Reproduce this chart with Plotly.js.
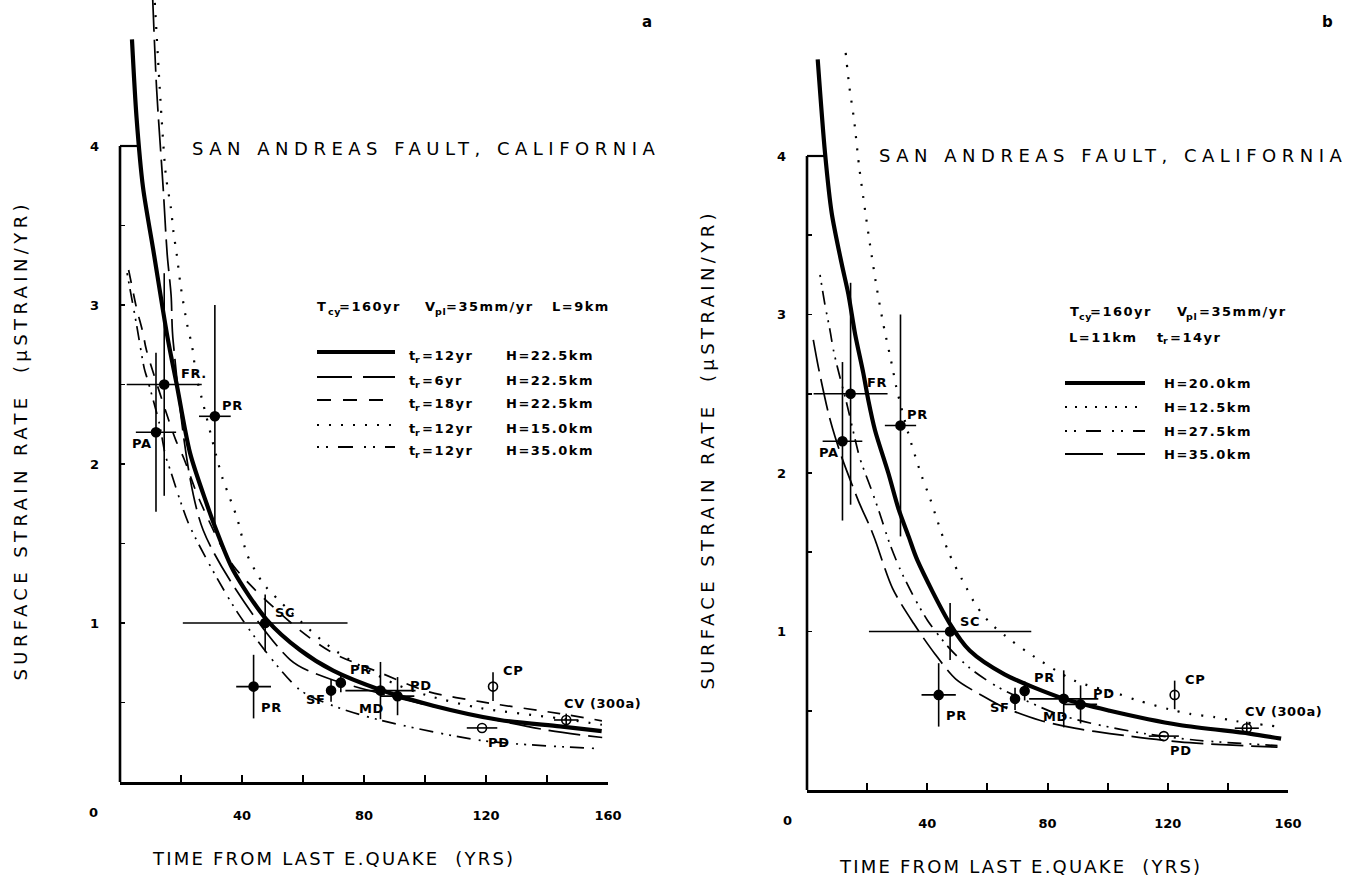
<!DOCTYPE html>
<html>
<head>
<meta charset="utf-8">
<script src="https://cdn.plot.ly/plotly-3.0.1.min.js"></script>
<style>
  html, body { margin: 0; padding: 0; background: #fff; }
  #chart { width: 1359px; height: 877px; }
</style>
</head>
<body>
<div id="chart"></div>
<script>
// ---------- axis ticks ----------
const yearTicks = [40, 80, 120, 160];
const yearMinorTicks = [20, 60, 100, 140];
const rateTicks = [1, 2, 3, 4];
const rateMinorTicks = [0.5, 1.5, 2.5, 3.5];

// ---------- observed surface strain rates (both panels) ----------
const siteYears   = [11.8, 14.5, 31.1, 47.6, 43.8, 69.2, 72.4, 85.4, 91, 122.3, 118.7, 146.3];
const siteRates   = [2.2, 2.5, 2.3, 1.0, 0.6, 0.575, 0.625, 0.575, 0.54, 0.6, 0.34, 0.39];
const siteYearErr = [6.6, 12.3, 5.2, 27, 5.7, 0, 0, 11.5, 5.5, 0, 5, 4];
const siteRateErr = [0.5, 0.7, 0.7, 0.18, 0.2, 0.07, 0.06, 0.18, 0.12, 0.09, 0, 0.04];
const siteOpen    = [false, false, false, false, false, false, false, false, false, true, true, true];
const siteLabelsA = ['PA', 'FR.', 'PR', 'SC', 'PR', 'SF', 'PR', 'MD', 'PD', 'CP', 'PD', 'CV (300a)'];
const siteLabelsB = ['PA', 'FR', 'PR', 'SC', 'PR', 'SF', 'PR', 'MD', 'PD', 'CP', 'PD', 'CV (300a)'];

// ---------- panel a model curves (Tcy=160yr, Vpl=35mm/yr, L=9km) ----------
const aTr12H225Years = [3.92, 5.42, 7.54, 10.88, 15.55, 18.6, 22.95, 28.42, 31.65, 37.15, 48.12, 59.04, 69.89, 85.24, 102.7, 124.56, 144.24, 157.93];
const aTr12H225Rates = [4.67, 4.18, 3.74, 3.35, 2.80, 2.50, 2.07, 1.75, 1.58, 1.33, 1.02, 0.83, 0.70, 0.58, 0.48, 0.39, 0.35, 0.32];

const aTr6H225Years = [10.73, 12.0, 14.14, 15.47, 16.76, 17.44, 27.25, 55.72, 67.07, 96.11, 139.83, 158.1];
const aTr6H225Rates = [4.92, 4.36, 3.74, 3.32, 3.06, 2.77, 1.585, 0.77, 0.66, 0.505, 0.327, 0.28];

const aTr18H225Years = [2.83, 3.79, 5.43, 7.47, 8.62, 15.55, 18.29, 21.04, 25.93, 37.16, 58.0, 69.93, 86.28, 100.73, 118.2, 144.18, 158.0];
const aTr18H225Rates = [3.22, 3.13, 2.98, 2.83, 2.72, 2.30, 2.15, 2.03, 1.78, 1.36, 0.97, 0.81, 0.68, 0.57, 0.505, 0.43, 0.385];

const aTr12H15Years = [11.42, 13.62, 15.07, 16.69, 17.53, 18.66, 19.89, 21.99, 23.63, 25.05, 26.99, 31.45, 33.78, 35.74, 38.38, 41.69, 45.53, 47.71, 68.85, 89.76, 100.72, 118.19, 144.16, 158.0];
const aTr12H15Rates = [4.9, 4.18, 3.81, 3.61, 3.46, 3.31, 3.12, 2.88, 2.74, 2.55, 2.40, 2.06, 1.90, 1.80, 1.66, 1.43, 1.29, 1.23, 0.85, 0.62, 0.545, 0.465, 0.40, 0.36];

const aTr12H35Years = [2.32, 5.39, 7.97, 9.04, 12.83, 14.94, 16.51, 19.73, 23.06, 39.43, 58.94, 69.8, 85.16, 119.01, 157.39];
const aTr12H35Rates = [3.2, 2.88, 2.60, 2.53, 2.26, 2.05, 1.96, 1.77, 1.6, 1.04, 0.58, 0.48, 0.39, 0.26, 0.21];

// ---------- panel b model curves (Tcy=160yr, Vpl=35mm/yr, L=11km, tr=14yr) ----------
const bH20Years = [3.56, 5.99, 8.22, 11.54, 13.74, 15.97, 18.73, 20.39, 22.62, 27.05, 30.5, 33.8, 36.7, 47.5, 54.1, 65.7, 85.5, 100.7, 123.9, 147.2, 157.7];
const bH20Rates = [4.61, 4.02, 3.64, 3.32, 3.13, 2.88, 2.63, 2.46, 2.27, 2.0, 1.77, 1.60, 1.45, 1.05, 0.88, 0.73, 0.575, 0.50, 0.41, 0.356, 0.324];

const bH125Years = [12.87, 14.07, 15.64, 17.3, 19.3, 20.96, 23.19, 25.38, 28.38, 29.84, 33.7, 38.16, 40.92, 43, 47.1, 52.9, 56.4, 61.1, 67.5, 73.3, 89, 103, 110, 120.4, 127.4, 135.6, 142.5, 156.5];
const bH125Rates = [4.65, 4.44, 4.23, 3.94, 3.66, 3.44, 3.17, 2.94, 2.67, 2.53, 2.25, 1.98, 1.84, 1.72, 1.50, 1.28, 1.16, 1.05, 0.95, 0.87, 0.69, 0.61, 0.565, 0.51, 0.48, 0.46, 0.435, 0.40];

const bH275Years = [4.33, 5.99, 7.65, 8.75, 10.08, 13.2, 16.53, 17.63, 21.52, 24.28, 27.4, 30.8, 35.5, 40.1, 47.1, 54.1, 63.4, 72.7, 83.2, 94.8, 112.3, 129.7, 156.5];
const bH275Rates = [3.25, 3.06, 2.90, 2.78, 2.67, 2.44, 2.17, 2.09, 1.89, 1.74, 1.56, 1.40, 1.22, 1.07, 0.90, 0.77, 0.65, 0.565, 0.48, 0.42, 0.356, 0.314, 0.28];

const bH35Years = [2.1, 3.76, 7.09, 9.31, 11.54, 14.3, 17.63, 20.96, 22.62, 28.5, 35.5, 42.5, 49.5, 58.8, 65.7, 77.4, 89, 100.7, 123.9, 156.5];
const bH35Rates = [2.84, 2.67, 2.38, 2.23, 2.10, 1.96, 1.80, 1.66, 1.58, 1.27, 1.05, 0.86, 0.70, 0.59, 0.52, 0.44, 0.39, 0.356, 0.303, 0.27];

// ---------- page geometry ----------
const W = 1359, H = 877;
const px = v => v / W;           // pixel column -> paper x
const py = v => 1 - v / H;       // pixel row -> paper y

const panelA = { left: 120, right: 608, bottom: 782, unit: 159, zeroLabel: 87 };
const panelB = { left: 807, right: 1288, bottom: 790, unit: 158.5, zeroLabel: 781 };

const FONT = 'DejaVu Sans';
const INK = '#000';

// line styles
const THICK = { color: INK, width: 4.2, shape: 'spline', smoothing: 0.8 };
const thin = dash => ({ color: INK, width: 1.7, dash: dash, shape: 'spline', smoothing: 0.8 });
const DASH_LONG = '32px,8px';
const DASH_MED = '13px,11px';
const DOTS = '2px,10px';
const DASH_DOT_DOT = '2px,6px,2px,6px,14px,8px';

function curve(xs, ys, line, xa, ya) {
  return { x: xs, y: ys, type: 'scatter', mode: 'lines', line: line,
           xaxis: xa, yaxis: ya, hoverinfo: 'skip', showlegend: false };
}

function sites(xa, ya) {
  return {
    x: siteYears, y: siteRates, type: 'scatter', mode: 'markers',
    xaxis: xa, yaxis: ya, showlegend: false, hoverinfo: 'skip',
    marker: {
      size: 9, color: INK,
      symbol: siteOpen.map(o => o ? 'circle-open' : 'circle'),
      line: { color: INK, width: 1.6 }
    },
    error_x: { type: 'data', array: siteYearErr, symmetric: true, width: 0, thickness: 1.6, color: INK },
    error_y: { type: 'data', array: siteRateErr, symmetric: true, width: 0, thickness: 1.6, color: INK }
  };
}

const traces = [
  curve(aTr12H35Years, aTr12H35Rates, thin(DASH_DOT_DOT), 'x', 'y'),
  curve(aTr6H225Years, aTr6H225Rates, thin(DASH_LONG), 'x', 'y'),
  curve(aTr18H225Years, aTr18H225Rates, thin(DASH_MED), 'x', 'y'),
  curve(aTr12H15Years, aTr12H15Rates, Object.assign(thin(DOTS), { width: 2.2 }), 'x', 'y'),
  curve(aTr12H225Years, aTr12H225Rates, THICK, 'x', 'y'),
  sites('x', 'y'),

  curve(bH35Years, bH35Rates, thin(DASH_LONG), 'x2', 'y2'),
  curve(bH275Years, bH275Rates, thin(DASH_DOT_DOT), 'x2', 'y2'),
  curve(bH125Years, bH125Rates, Object.assign(thin(DOTS), { width: 2.2 }), 'x2', 'y2'),
  curve(bH20Years, bH20Rates, THICK, 'x2', 'y2'),
  sites('x2', 'y2')
];

// ---------- text ----------
const annotations = [];
const spacing = [];
function addText(opt, ls) {
  annotations.push(Object.assign({
    showarrow: false, align: 'left', xanchor: 'left', yanchor: 'middle'
  }, opt));
  spacing.push(ls || 0);
}
const bold = (size) => ({ family: FONT, size: size, color: INK, weight: 'bold' });
const plain = (size) => ({ family: FONT, size: size, color: INK });

// anchors of the site names (years, rate)
const labelYears = [3.4, 19.2, 32.7, 50.3, 45.6, 60.2, 74.8, 77.8, 94.5, 125, 120.1, 145];
const labelRates = [2.13, 2.57, 2.37, 1.065, 0.467, 0.52, 0.709, 0.461, 0.606, 0.70, 0.247, 0.495];

function panelText(p, xa, ya, labels, letter, titleRow) {
  labels.forEach((t, i) => addText({ text: t, x: labelYears[i], y: labelRates[i],
    xref: xa, yref: ya, font: bold(13) }, 0.6));
  addText({ text: 'SAN ANDREAS FAULT, CALIFORNIA', x: px(p.left + 70), y: py(titleRow),
    xref: 'paper', yref: 'paper', font: plain(18) }, 5.5);
  addText({ text: 'TIME FROM LAST E.QUAKE  (YRS)', x: px(p.left + 30), y: py(p.bottom + 76),
    xref: 'paper', yref: 'paper', font: plain(18) }, 2.2);
  addText({ text: 'SURFACE STRAIN RATE  (\u03BCSTRAIN/YR)', x: px(p.left - 100), y: py(p.bottom - 99),
    xref: 'paper', yref: 'paper', textangle: -90, xanchor: 'center', yanchor: 'bottom',
    font: plain(18) }, 4.4);
  addText({ text: '0', x: px(p.zeroLabel), y: py(p.bottom + 30),
    xref: 'paper', yref: 'paper', font: bold(13) }, 0);
  addText({ text: letter, x: px(p.right + 32), y: py(22),
    xref: 'paper', yref: 'paper', font: bold(15) }, 0);
}
panelText(panelA, 'x', 'y', siteLabelsA, 'a', 148);
panelText(panelB, 'x2', 'y2', siteLabelsB, 'b', 155);

// ---------- legends ----------
const shapes = [];
function legendLine(x0, x1, yRow, line) {
  shapes.push({ type: 'line', xref: 'paper', yref: 'paper',
    x0: px(x0), x1: px(x1), y0: py(yRow), y1: py(yRow),
    line: { color: INK, width: line.width, dash: line.dash || 'solid' } });
}
const LEG_LS = 1.5;
// a legend entry written as pieces: [text, left pixel, subscript?]
function legendText(pieces, row) {
  pieces.forEach(([t, x, sub]) => addText({
    text: t, x: px(x), y: py(row + (sub ? 4 : 0)), xref: 'paper', yref: 'paper',
    font: bold(sub ? 9.5 : 13)
  }, sub ? 0.6 : LEG_LS));
}

// panel a
legendText([['T', 315], ['cy', 326, true], ['=160yr', 337]], 307);
legendText([['V', 423], ['pl', 433, true], ['=35mm/yr', 444]], 307);
legendText([['L=9km', 550]], 307);
const legendA = [
  { line: { width: 4 }, tr: '=12yr', h: 'H=22.5km' },
  { line: { width: 1.8, dash: '35px,11px' }, tr: '=6yr', h: 'H=22.5km' },
  { line: { width: 1.8, dash: '14px,12px' }, tr: '=18yr', h: 'H=22.5km' },
  { line: { width: 2.2, dash: DOTS }, tr: '=12yr', h: 'H=15.0km' },
  { line: { width: 1.8, dash: '2px,7px,2px,10px,15px,11px' }, tr: '=12yr', h: 'H=35.0km' }
];
const rowsA = [352, 377, 400, 425, 447];
legendA.forEach((e, i) => {
  legendLine(317, 395, rowsA[i], e.line);
  legendText([['t', 407], ['r', 413, true], [e.tr, 420], [e.h, 504]], rowsA[i] + 3);
});

// panel b
legendText([['T', 1068], ['cy', 1077, true], ['=160yr', 1088]], 312);
legendText([['V', 1175], ['pl', 1184, true], ['=35mm/yr', 1197]], 312);
legendText([['L=11km', 1067], ['t', 1155], ['r', 1161, true], ['=14yr', 1168]], 337);
const legendB = [
  { line: { width: 4 }, h: 'H=20.0km' },
  { line: { width: 2.2, dash: '2px,8px' }, h: 'H=12.5km' },
  { line: { width: 1.8, dash: '2px,7px,2px,10px,15px,11px' }, h: 'H=27.5km' },
  { line: { width: 1.8, dash: '38px,14px' }, h: 'H=35.0km' }
];
const rowsB = [383, 407, 431, 454];
legendB.forEach((e, i) => {
  legendLine(1065, 1145, rowsB[i], e.line);
  legendText([[e.h, 1162]], rowsB[i]);
});

// ---------- left frame: rate axis up to 4 with the short cap ----------
const frameTopRate = 4;
const capYearsA = 6.2, capYearsB = 6.0;
[[panelA, 'x', 'y', capYearsA], [panelB, 'x2', 'y2', capYearsB]].forEach(([p, xa, ya, cap]) => {
  shapes.push({ type: 'line', xref: 'paper', yref: ya, x0: px(p.left), x1: px(p.left),
    y0: 0, y1: frameTopRate, line: { color: INK, width: 2.6 } });
  shapes.push({ type: 'line', xref: xa, yref: ya, x0: 0, x1: cap,
    y0: frameTopRate, y1: frameTopRate, line: { color: INK, width: 2.2 } });
});

// ---------- axes ----------
function xAxis(p, anchor) {
  return {
    domain: [px(p.left), px(p.right)], range: [0, 160], anchor: anchor,
    showline: true, linecolor: INK, linewidth: 2.6, mirror: false,
    ticks: 'inside', ticklen: 7, tickwidth: 2, tickcolor: INK,
    tickmode: 'array', tickvals: yearTicks,
    minor: { tickmode: 'array', tickvals: yearMinorTicks, ticks: 'inside', ticklen: 7, tickwidth: 2, tickcolor: INK, showgrid: false },
    tickfont: bold(13), ticklabelstandoff: 20,
    showgrid: false, zeroline: false, fixedrange: true
  };
}
function yAxis(p, anchor) {
  return {
    domain: [py(p.bottom), 1], range: [0, p.bottom / p.unit], anchor: anchor,
    showline: false,
    ticks: 'inside', ticklen: 5, tickwidth: 1.6, tickcolor: INK,
    tickmode: 'array', tickvals: rateTicks,
    minor: { tickmode: 'array', tickvals: rateMinorTicks, ticks: 'inside', ticklen: 5, tickwidth: 1.6, tickcolor: INK, showgrid: false },
    tickfont: bold(13), ticklabelstandoff: 20,
    showgrid: false, zeroline: false, fixedrange: true
  };
}

const layout = {
  width: W, height: H,
  margin: { l: 0, r: 0, t: 0, b: 0 },
  paper_bgcolor: '#fff', plot_bgcolor: '#fff',
  font: { family: FONT, color: INK },
  showlegend: false,
  xaxis: xAxis(panelA, 'y'),
  yaxis: yAxis(panelA, 'x'),
  xaxis2: xAxis(panelB, 'y2'),
  yaxis2: yAxis(panelB, 'x2'),
  annotations: annotations,
  shapes: shapes
};

Plotly.newPlot('chart', traces, layout, { staticPlot: true, displayModeBar: false }).then(gd => {
  // wide plotter-style lettering
  gd.querySelectorAll('.annotation').forEach(g => {
    const i = +g.getAttribute('data-index');
    const t = g.querySelector('text.annotation-text');
    if (t && spacing[i]) t.style.letterSpacing = spacing[i] + 'px';
  });
});
</script>
</body>
</html>
